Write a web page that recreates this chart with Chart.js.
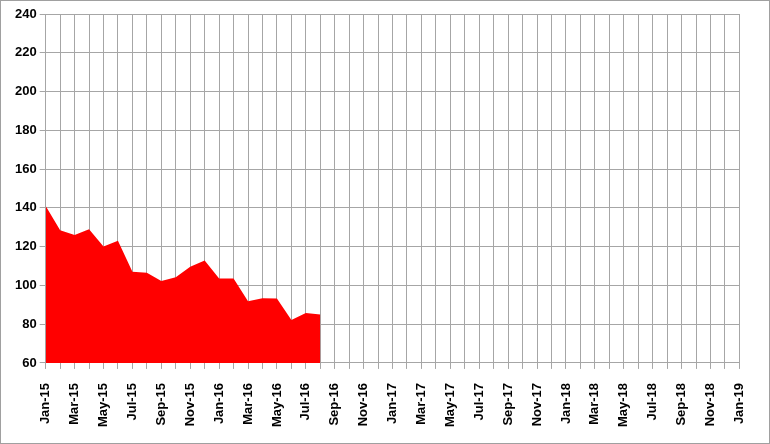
<!DOCTYPE html>
<html>
<head>
<meta charset="utf-8">
<script src="https://cdn.jsdelivr.net/npm/chart.js@4"></script>
<style>
  html, body { margin: 0; padding: 0; background: #fff; }
  #wrap { width: 768px; height: 442px; border: 1px solid #a0a0a0; }
</style>
</head>
<body>
<div id="wrap"><canvas id="c" width="768" height="442"></canvas></div>
<script>
// ── Data ────────────────────────────────────────────
const monthNames = ["Jan","Feb","Mar","Apr","May","Jun","Jul","Aug","Sep","Oct","Nov","Dec"];
const years      = ["15","16","17","18","19"];
const values     = [141, 128.5, 126, 129, 120, 123, 107, 106.5, 102.3, 104.2, 109.6, 112.8,
                    103.5, 103.5, 91.8, 93.3, 93.2, 82.2, 85.8, 85];

// Jan-15 .. Jan-19, one category per month
const labels = [];
years.forEach(function (y, yi) {
  monthNames.forEach(function (m, mi) {
    if (yi < years.length - 1 || mi === 0) labels.push(m + "-" + y);
  });
});
const series = labels.map(function (l, i) { return i < values.length ? values[i] : null; });

const font = { family: "'Liberation Sans', Arial, sans-serif", size: 13, weight: "bold" };
const grid = "#a6a6a6";

new Chart(document.getElementById("c"), {
  type: "line",
  data: {
    labels: labels,
    datasets: [{
      data: series,
      fill: "origin",
      backgroundColor: "#ff0000",
      borderColor: "#ff0000",
      borderWidth: 0,
      pointRadius: 0,
      tension: 0,
      spanGaps: false
    }]
  },
  options: {
    responsive: false,
    animation: false,
    layout: { padding: { top: 13, right: 3, left: 11, bottom: 2 } },
    plugins: { legend: { display: false }, tooltip: { enabled: false } },
    scales: {
      x: {
        offset: false,
        grid: { color: grid, lineWidth: 1, tickLength: 6 },
        border: { color: grid },
        ticks: {
          color: "#000", font: font, autoSkip: false, padding: 14,
          minRotation: 90, maxRotation: 90,
          callback: function (v, i) { return i % 2 === 0 ? labels[i] : ""; }
        }
      },
      y: {
        min: 60, max: 240,
        grid: { color: grid, lineWidth: 1, tickLength: 6 },
        border: { color: grid },
        ticks: { color: "#000", font: font, stepSize: 20 }
      }
    }
  }
});
</script>
</body>
</html>
